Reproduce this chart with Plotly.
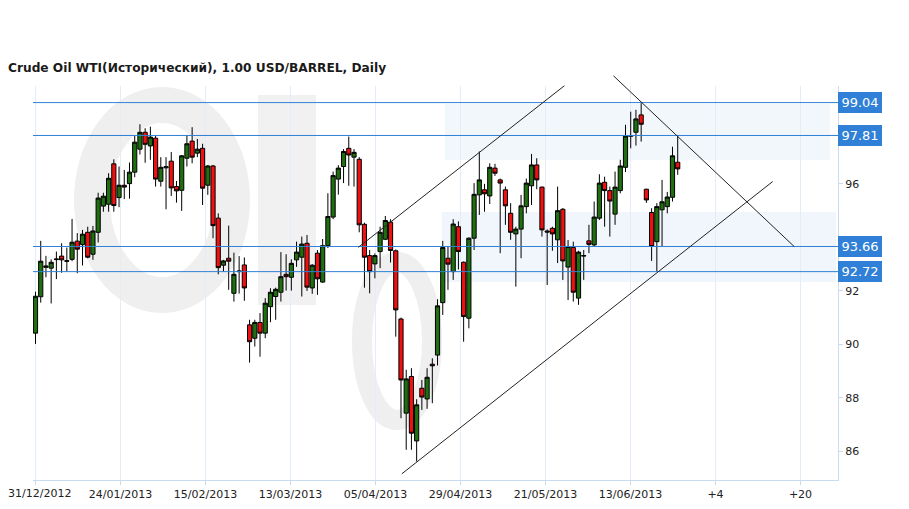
import plotly.graph_objects as go

# ---------------- data ----------------
title_text = "Crude Oil WTI(Исторический), 1.00 USD/BARREL, Daily"

open_ = [90.42, 91.78, 92.88, 92.85, 93.17, 93.30, 93.13, 93.18, 93.86, 93.73,
         94.19, 93.37, 94.19, 95.17, 95.24, 96.75, 95.49, 95.95, 96.01, 96.44,
         97.30, 97.93, 97.42, 97.71, 96.10, 96.60, 96.85, 95.90, 95.76, 96.96,
         97.60, 97.15, 97.33, 95.95, 96.67, 94.72, 92.96, 93.22, 91.91, 92.72,
         92.97, 90.73, 90.23, 90.82, 90.42, 91.41, 91.79, 91.95, 92.62, 92.51,
         93.16, 93.26, 93.78, 92.11, 93.41, 92.33, 93.69, 94.76, 96.18, 96.65,
         97.33, 97.00, 96.92, 94.49, 93.32, 93.01, 93.47, 93.93, 94.57, 93.50,
         90.95, 87.43, 88.80, 86.39, 88.36, 87.96, 89.26, 89.60, 91.56, 93.22,
         92.72, 94.40, 93.07, 90.98, 93.97, 95.59, 95.78, 95.55, 96.59, 96.15,
         95.78, 94.90, 94.13, 94.31, 95.15, 95.93, 96.71, 95.88, 94.24, 94.34,
         93.91, 95.05, 92.89, 93.62, 91.73, 93.30, 93.87, 93.72, 94.72, 96.06,
         95.75, 94.87, 95.75, 96.62, 97.78, 97.93, 98.58, 95.80, 94.93, 93.84,
         95.03, 95.15, 95.50, 96.81]
high = [91.97, 93.87, 93.31, 93.18, 93.47, 93.78, 93.62, 94.69, 94.16, 94.28,
        94.40, 94.43, 95.67, 95.67, 96.40, 96.92, 96.65, 96.52, 96.80, 97.81,
        98.23, 98.08, 98.14, 97.80, 97.00, 97.00, 97.19, 96.11, 97.08, 97.83,
        98.12, 97.68, 97.50, 96.71, 96.71, 94.90, 93.16, 94.44, 93.43, 93.30,
        93.25, 90.92, 90.92, 91.17, 91.73, 92.10, 92.12, 93.45, 93.37, 93.18,
        93.84, 94.03, 94.09, 93.00, 93.53, 93.94, 95.65, 96.46, 96.70, 97.30,
        97.77, 97.30, 97.00, 94.55, 93.53, 93.40, 94.40, 94.80, 94.68, 93.55,
        91.00, 89.05, 89.11, 87.95, 88.67, 89.11, 89.48, 91.69, 93.87, 93.66,
        94.68, 94.60, 93.10, 94.00, 96.03, 97.21, 96.00, 96.77, 96.75, 96.20,
        95.90, 95.28, 94.40, 95.59, 96.20, 97.12, 96.96, 95.90, 94.30, 94.40,
        95.90, 95.10, 93.90, 93.84, 93.50, 93.53, 94.47, 95.34, 96.36, 96.27,
        95.90, 96.46, 96.90, 98.21, 98.70, 98.77, 99.02, 95.82, 95.09, 95.28,
        96.15, 95.70, 97.39, 97.81]
low = [90.02, 91.56, 92.51, 91.53, 92.44, 92.68, 92.72, 93.11, 92.66, 92.95,
       93.22, 93.16, 93.81, 94.96, 94.96, 94.96, 95.13, 95.43, 95.45, 96.25,
       97.10, 96.79, 96.90, 95.90, 95.90, 95.05, 95.55, 95.30, 94.99, 96.65,
       96.77, 97.00, 95.21, 95.59, 93.97, 92.62, 92.72, 92.04, 91.60, 91.90,
       91.63, 89.32, 89.92, 89.54, 90.23, 90.83, 90.92, 91.60, 92.01, 92.01,
       92.90, 91.79, 92.00, 91.89, 91.85, 92.30, 93.60, 94.68, 95.60, 96.03,
       95.93, 95.90, 94.19, 92.12, 91.91, 92.47, 92.85, 93.90, 93.06, 90.29,
       87.24, 86.06, 86.06, 85.62, 87.55, 87.59, 87.80, 89.21, 91.10, 92.04,
       92.41, 92.80, 90.10, 90.60, 93.53, 94.84, 94.96, 95.25, 96.30, 93.41,
       94.47, 93.91, 92.16, 93.22, 94.90, 95.21, 95.80, 94.03, 92.22, 93.50,
       93.04, 92.41, 91.66, 91.60, 91.48, 92.41, 93.41, 93.66, 94.65, 94.40,
       94.03, 94.47, 95.65, 96.44, 97.33, 97.43, 97.58, 95.29, 93.12, 92.72,
       93.66, 94.90, 95.34, 96.34]
close = [91.80, 93.11, 92.93, 93.07, 93.19, 93.16, 93.11, 93.82, 93.56, 94.12,
         93.26, 94.24, 95.47, 95.54, 96.21, 95.19, 95.95, 95.88, 96.44, 97.56,
         97.93, 97.48, 97.75, 96.18, 96.62, 96.64, 95.85, 95.74, 97.05, 97.50,
         97.00, 97.30, 95.84, 96.67, 94.44, 92.87, 93.12, 93.11, 92.62, 92.74,
         92.11, 90.10, 90.82, 90.42, 91.54, 91.95, 92.06, 92.53, 92.53, 93.03,
         93.45, 93.75, 92.14, 92.96, 92.45, 93.69, 94.78, 96.31, 96.59, 97.21,
         97.08, 97.18, 94.47, 93.26, 92.72, 93.32, 94.19, 94.63, 93.51, 91.29,
         88.67, 88.71, 86.68, 87.74, 88.03, 88.77, 89.20, 91.44, 93.62, 93.00,
         94.50, 93.47, 91.04, 93.97, 95.61, 96.15, 95.63, 96.62, 96.40, 96.03,
         95.18, 94.19, 94.31, 95.18, 96.03, 96.71, 96.15, 94.28, 94.20, 94.13,
         95.00, 93.12, 93.66, 91.95, 93.45, 93.32, 93.74, 94.76, 96.03, 95.75,
         95.36, 95.88, 96.67, 97.79, 97.81, 98.43, 98.23, 95.40, 93.66, 95.15,
         95.33, 95.51, 97.05, 96.56]
day_index = list(range(len(open_)))

x_tick_labels = ["31/12/2012", "24/01/2013", "15/02/2013", "13/03/2013", "05/04/2013",
                 "29/04/2013", "21/05/2013", "13/06/2013", "+4", "+20"]
y_tick_values = [86, 88, 90, 92, 94, 96, 98]
# 94 and 98 sit behind the level boxes in the original
y_tick_labels = ["86", "88", "90", "92", "", "96", ""]

level_values = [99.04, 97.81, 93.66, 92.72]
level_labels = ["99.04", "97.81", "93.66", "92.72"]

# trend lines: (day, price) -> (day, price)
trend_lines = [((61.84, 93.63), (101.3, 99.67)),
               ((70.15, 85.16), (141.2, 96.09)),
               ((110.7, 100.04), (145.3, 93.66))]

# ---------------- layout constants ----------------
# The page adds an 8px body margin, so the figure is 8px smaller and
# positions below are given in window pixels.
PAGE_OFF = 8
FIG_W, FIG_H = 909 - PAGE_OFF, 509 - PAGE_OFF
X_RANGE = [-0.48, 153.7]
Y_RANGE = [84.93, 99.66]
TICK_STEP = 16.28
GREEN = "#1f6f10"
RED = "#f01010"
GRID = "#e3edf7"
AXIS = "#c9dbef"
LEVEL = "#2f80d6"
FONT = "DejaVu Sans"
PLOT_L, PLOT_R, PLOT_T, PLOT_B = 33, 838, 86, 480

def xp(v):
    return (v - X_RANGE[0]) / (X_RANGE[1] - X_RANGE[0])

def yp(v):
    return (v - Y_RANGE[0]) / (Y_RANGE[1] - Y_RANGE[0])

def pxp(px):
    return (px - PLOT_L) / float(PLOT_R - PLOT_L)

def pyp(py):
    return (PLOT_B - py) / float(PLOT_B - PLOT_T)

fig = go.Figure()
fig.add_trace(go.Candlestick(
    x=day_index, open=open_, high=high, low=low, close=close,
    increasing=dict(line=dict(color="#000000", width=1), fillcolor=GREEN),
    decreasing=dict(line=dict(color="#000000", width=1), fillcolor=RED),
    whiskerwidth=0, hoverinfo="skip", showlegend=False,
))

shapes = []
# faint watermark logo
shapes.append(dict(type="circle", xref="paper", yref="paper", layer="below",
                   x0=pxp(92), x1=pxp(232), y0=pyp(295), y1=pyp(105),
                   line=dict(color="#efefef", width=36), fillcolor="rgba(0,0,0,0)"))
shapes.append(dict(type="rect", xref="paper", yref="paper", layer="below",
                   x0=pxp(258), x1=pxp(316), y0=pyp(305), y1=pyp(95),
                   line=dict(width=0), fillcolor="#f1f1f1"))
shapes.append(dict(type="circle", xref="paper", yref="paper", layer="below",
                   x0=pxp(362), x1=pxp(432), y0=pyp(420), y1=pyp(262),
                   line=dict(color="#efefef", width=20), fillcolor="rgba(0,0,0,0)"))
shapes.append(dict(type="rect", xref="paper", yref="paper", layer="below",
                   x0=pxp(442), x1=pxp(836), y0=pyp(282), y1=pyp(212),
                   line=dict(width=0), fillcolor="#f0f6fc"))
shapes.append(dict(type="rect", xref="paper", yref="paper", layer="below",
                   x0=pxp(445), x1=pxp(830), y0=pyp(160), y1=pyp(104),
                   line=dict(width=0), fillcolor="#f2f7fc"))

for v in level_values:
    shapes.append(dict(type="line", xref="paper", yref="y", x0=0, x1=1, y0=v, y1=v,
                       line=dict(color=LEVEL, width=1), layer="above"))
for (a, b) in trend_lines:
    shapes.append(dict(type="line", xref="paper", yref="paper",
                       x0=xp(a[0]), y0=yp(a[1]), x1=xp(b[0]), y1=yp(b[1]),
                       line=dict(color="#222222", width=1), layer="above"))

annotations = []
for v, t in zip(level_values, level_labels):
    annotations.append(dict(xref="paper", yref="y", x=1.0, y=v, xanchor="left",
                            yanchor="middle", text=t, showarrow=False,
                            font=dict(family=FONT, size=13, color="white"),
                            bgcolor=LEVEL, bordercolor=LEVEL, borderwidth=1,
                            borderpad=2, width=38, height=15, align="center"))
# chart title
annotations.append(dict(xref="paper", yref="paper", x=pxp(6), y=pyp(68),
                        xanchor="left", yanchor="middle", text="<b>" + title_text + "</b>",
                        showarrow=False,
                        font=dict(family=FONT, size=12.2, color="#1a1a1a")))
# first date label would fall past the page's left edge: pin it to the edge
annotations.append(dict(xref="paper", yref="paper", x=pxp(PAGE_OFF), y=pyp(493),
                        xanchor="left", yanchor="middle", text=x_tick_labels[0],
                        showarrow=False, borderpad=0, borderwidth=0,
                        font=dict(family=FONT, size=11, color="#222222")))
shown_x_labels = [""] + x_tick_labels[1:]

fig.update_layout(
    width=FIG_W, height=FIG_H,
    margin=dict(l=PLOT_L - PAGE_OFF, r=909 - PLOT_R, t=PLOT_T - PAGE_OFF,
                b=509 - PLOT_B, autoexpand=False),
    paper_bgcolor="white", plot_bgcolor="rgba(0,0,0,0)",
    showlegend=False, boxgap=0.2, boxgroupgap=0,
    font=dict(family=FONT, size=11, color="#222222"),
    shapes=shapes, annotations=annotations,
    xaxis=dict(range=X_RANGE, tickmode="array", automargin=False,
               tickvals=[i * TICK_STEP for i in range(len(x_tick_labels))],
               ticktext=shown_x_labels, showgrid=True, gridcolor=GRID, gridwidth=1,
               showline=True, linecolor=AXIS, linewidth=1, ticks="outside",
               ticklen=4, tickcolor=AXIS, zeroline=False,
               rangeslider=dict(visible=False),
               tickfont=dict(family=FONT, size=11, color="#222222")),
    yaxis=dict(range=Y_RANGE, side="right", tickmode="array", automargin=False,
               tickvals=y_tick_values, ticktext=y_tick_labels,
               showgrid=False, showline=True, linecolor=AXIS, linewidth=1,
               ticks="outside", ticklen=4, tickcolor=AXIS, zeroline=False,
               tickfont=dict(family=FONT, size=11, color="#222222")),
)

fig.write_html("out.html")
